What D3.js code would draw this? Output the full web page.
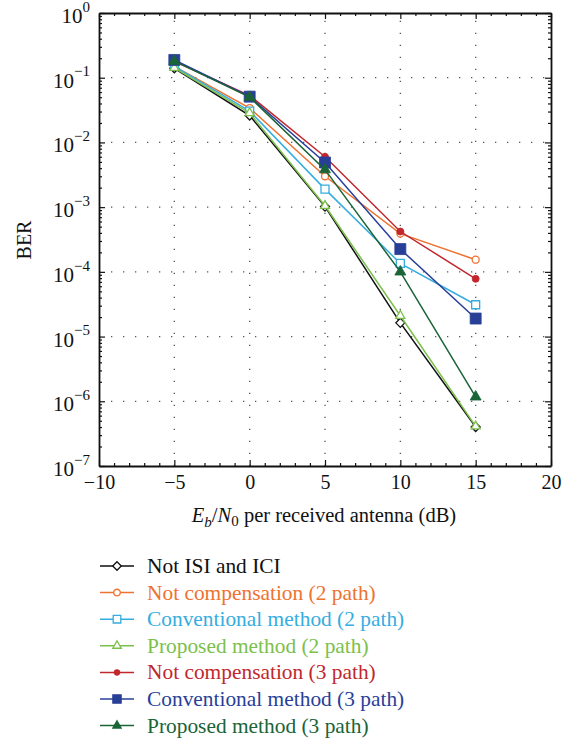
<!DOCTYPE html>
<html>
<head>
<meta charset="utf-8">
<script src="https://cdn.jsdelivr.net/npm/d3@7"></script>
<style>
  body { margin: 0; background: #fff; }
</style>
</head>
<body>
<div id="chart"></div>
<script>
//Canvas size
const width = 573;
const height = 740;
const serif = "'Liberation Serif', 'Times New Roman', 'DejaVu Serif', serif";

//Data
const snr = [-5, 0, 5, 10, 15];
const notIsiIci = [0.14, 0.026, 1.02e-3, 1.63e-5, 4.0e-7];
const notComp2 = [0.15, 0.034, 3.0e-3, 3.9e-4, 1.54e-4];
const conv2 = [0.15, 0.0305, 1.9e-3, 1.35e-4, 3.1e-5];
const prop2 = [0.142, 0.0285, 1.05e-3, 2.1e-5, 4.1e-7];
const notComp3 = [0.18, 0.053, 6.0e-3, 4.2e-4, 7.8e-5];
const conv3 = [0.188, 0.051, 4.9e-3, 2.25e-4, 1.9e-5];
const prop3 = [0.18, 0.05, 3.8e-3, 1.0e-4, 1.17e-6];

const seriesNames = [
  "Not ISI and ICI",
  "Not compensation (2 path)",
  "Conventional method (2 path)",
  "Proposed method (2 path)",
  "Not compensation (3 path)",
  "Conventional method (3 path)",
  "Proposed method (3 path)"
];

const xTicks = [-10, -5, 0, 5, 10, 15, 20];
const yExponents = [0, -1, -2, -3, -4, -5, -6, -7];

//styling per series
const series = [
  { name: seriesNames[0], values: notIsiIci, color: "#111111", shape: "diamond", fill: false, size: 9 },
  { name: seriesNames[1], values: notComp2, color: "#ee7230", shape: "circle", fill: false, size: 7 },
  { name: seriesNames[2], values: conv2, color: "#35ade0", shape: "square", fill: false, size: 8 },
  { name: seriesNames[3], values: prop2, color: "#7cc04c", shape: "triangle", fill: false, size: 9 },
  { name: seriesNames[4], values: notComp3, color: "#c1272d", shape: "circle", fill: true, size: 7 },
  { name: seriesNames[5], values: conv3, color: "#283f98", shape: "square", fill: true, size: 11 },
  { name: seriesNames[6], values: prop3, color: "#1a6437", shape: "triangle", fill: true, size: 11 }
];

const plot = { left: 99, right: 551, top: 13, bottom: 466 };

const svg = d3.select("#chart").append("svg").attr("width", width).attr("height", height)
  .attr("font-family", serif);

//Scales
const x = d3.scaleLinear().domain([-10, 20]).range([plot.left, plot.right]);
const y = d3.scaleLog().domain([1e-7, 1]).range([plot.bottom, plot.top]);

//Grid lines (dotted)
const grid = svg.append("g").attr("stroke", "#555").attr("stroke-width", 1.3).attr("stroke-dasharray", "1.3,10.7");
grid.selectAll("line.vx").data(xTicks.slice(1, -1)).enter().append("line")
  .attr("x1", d => x(d)).attr("x2", d => x(d)).attr("y1", plot.bottom).attr("y2", plot.top);
grid.selectAll("line.hy").data(yExponents.slice(1, -1)).enter().append("line")
  .attr("y1", d => y(Math.pow(10, d))).attr("y2", d => y(Math.pow(10, d))).attr("x1", plot.left).attr("x2", plot.right);

//Minor tick values
const xMinor = d3.range(-10, 20.01, 1).filter(v => v % 5 !== 0);
const yMinor = [];
yExponents.slice(1).forEach(e => { for (let k = 2; k <= 9; k++) yMinor.push(k * Math.pow(10, e)); });
const yMajor = yExponents.map(e => Math.pow(10, e));

function styleAxis(g) {
  g.attr("font-family", serif);
  g.select(".domain").attr("stroke", "#111").attr("stroke-width", 1.8);
  g.selectAll(".tick line").attr("stroke", "#111").attr("stroke-width", 1.2);
}

//Bottom axis
const xAxisG = svg.append("g").attr("transform", `translate(0,${plot.bottom})`)
  .call(d3.axisBottom(x).tickValues(xTicks).tickSizeInner(-6).tickSizeOuter(0).tickPadding(12)
    .tickFormat(d => d < 0 ? "\u2212" + Math.abs(d) : d));
styleAxis(xAxisG);
xAxisG.selectAll("text").attr("font-size", 20).attr("fill", "#111").attr("dy", "0.55em");
svg.append("g").attr("transform", `translate(0,${plot.bottom})`)
  .call(d3.axisBottom(x).tickValues(xMinor).tickSizeInner(-3).tickSizeOuter(0).tickFormat(""))
  .call(styleAxis).select(".domain").remove();

//Top axis
svg.append("g").attr("transform", `translate(0,${plot.top})`)
  .call(d3.axisTop(x).tickValues(xTicks).tickSizeInner(-6).tickSizeOuter(0).tickFormat(""))
  .call(styleAxis);
svg.append("g").attr("transform", `translate(0,${plot.top})`)
  .call(d3.axisTop(x).tickValues(xMinor).tickSizeInner(-3).tickSizeOuter(0).tickFormat(""))
  .call(styleAxis).select(".domain").remove();

//Left axis with power-of-ten labels
const yAxisG = svg.append("g").attr("transform", `translate(${plot.left},0)`)
  .call(d3.axisLeft(y).tickValues(yMajor).tickSizeInner(-6).tickSizeOuter(0).tickPadding(9).tickFormat(""));
styleAxis(yAxisG);
yAxisG.selectAll(".tick text").each(function(d) {
  const t = d3.select(this).attr("fill", "#111").attr("font-size", 21).attr("dy", "0.45em");
  const e = Math.round(Math.log10(d));
  t.append("tspan").text("10");
  t.append("tspan").attr("font-size", 15).attr("dy", "-0.75em").text(e < 0 ? "\u2212" + Math.abs(e) : e);
});
svg.append("g").attr("transform", `translate(${plot.left},0)`)
  .call(d3.axisLeft(y).tickValues(yMinor).tickSizeInner(-3).tickSizeOuter(0).tickFormat(""))
  .call(styleAxis).select(".domain").remove();

//Right axis
svg.append("g").attr("transform", `translate(${plot.right},0)`)
  .call(d3.axisRight(y).tickValues(yMajor).tickSizeInner(-6).tickSizeOuter(0).tickFormat(""))
  .call(styleAxis);
svg.append("g").attr("transform", `translate(${plot.right},0)`)
  .call(d3.axisRight(y).tickValues(yMinor).tickSizeInner(-3).tickSizeOuter(0).tickFormat(""))
  .call(styleAxis).select(".domain").remove();

//Axis titles
const xLabel = svg.append("text").attr("x", 324).attr("y", 522).attr("text-anchor", "middle")
  .attr("font-size", 20.5).attr("fill", "#111");
xLabel.append("tspan").attr("font-style", "italic").text("E");
xLabel.append("tspan").attr("font-style", "italic").attr("font-size", 15).attr("dy", "0.3em").text("b");
xLabel.append("tspan").attr("dy", "-0.22em").text("/");
xLabel.append("tspan").attr("font-style", "italic").text("N");
xLabel.append("tspan").attr("font-size", 15).attr("dy", "0.3em").text("0");
xLabel.append("tspan").attr("dy", "-0.22em").text(" per received antenna (dB)");

svg.append("text").attr("transform", `translate(31,240) rotate(-90)`).attr("text-anchor", "middle")
  .attr("font-size", 20).attr("fill", "#111").text("BER");

//Marker path generator
function markerPath(shape, size) {
  if (shape === "diamond") {
    const r = size / 2;
    return `M0,${-r}L${r},0L0,${r}L${-r},0Z`;
  }
  if (shape === "circle") return d3.symbol(d3.symbolCircle, Math.PI * (size / 2) * (size / 2))();
  if (shape === "square") return d3.symbol(d3.symbolSquare, size * size)();
  return d3.symbol(d3.symbolTriangle, Math.sqrt(3) / 4 * size * size)();
}

//Lines and markers
const line = d3.line().x((d, i) => x(snr[i])).y(d => y(d));
series.forEach(s => {
  const g = svg.append("g");
  g.append("path").datum(s.values).attr("d", line).attr("fill", "none")
    .attr("stroke", s.color).attr("stroke-width", 1.5);
  g.selectAll("path.mk").data(s.values).enter().append("path")
    .attr("class", "mk")
    .attr("transform", (d, i) => `translate(${x(snr[i])},${y(d)})`)
    .attr("d", markerPath(s.shape, s.size))
    .attr("fill", s.fill ? s.color : "#fff")
    .attr("stroke", s.color).attr("stroke-width", s.fill ? 0.8 : 1.3);
});

//Legend
const legend = svg.append("g").attr("transform", "translate(100,566)");
series.forEach((s, i) => {
  const row = legend.append("g").attr("transform", `translate(0,${i * 26.6})`);
  row.append("line").attr("x1", 0).attr("x2", 34).attr("stroke", s.color).attr("stroke-width", 1.5);
  row.append("path").attr("transform", "translate(17,0)")
    .attr("d", markerPath(s.shape, s.size * (s.fill ? 0.75 : 0.95)))
    .attr("fill", s.fill ? s.color : "#fff").attr("stroke", s.color).attr("stroke-width", 1.3);
  row.append("text").attr("x", 47).attr("y", 7).attr("font-size", 21.4).attr("fill", s.color).text(s.name);
});
</script>
</body>
</html>
